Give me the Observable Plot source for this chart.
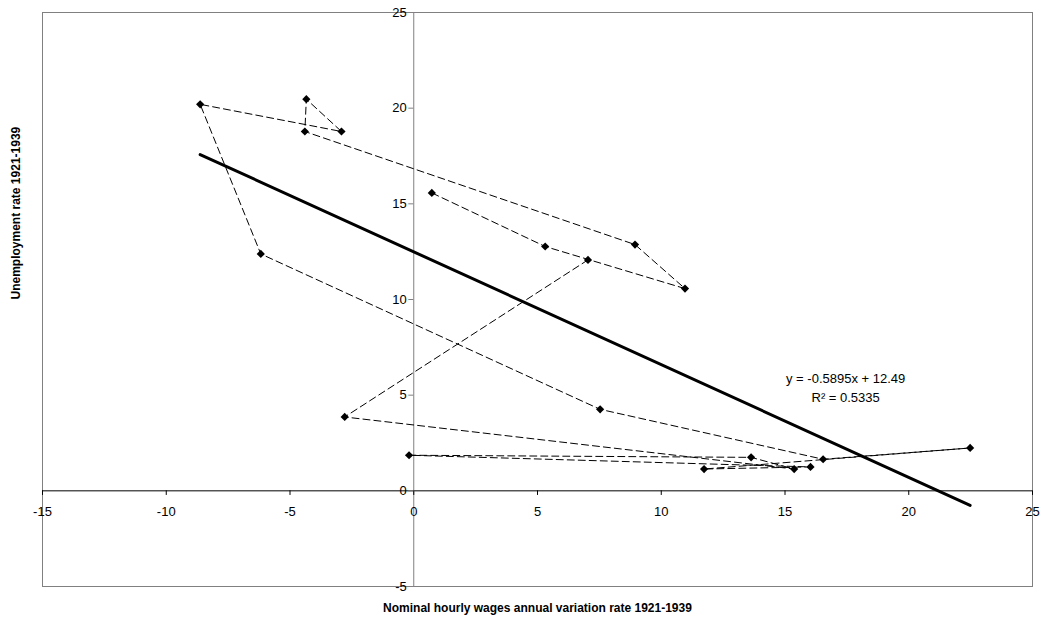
<!DOCTYPE html>
<html>
<head>
<meta charset="utf-8">
<script src="https://cdn.jsdelivr.net/npm/d3@7"></script>
<script src="https://cdn.jsdelivr.net/npm/@observablehq/plot@0.6"></script>
<style>
  html, body { margin: 0; padding: 0; background: #fff; }
  #chart svg { display: block; font-family: "Liberation Sans", Arial, sans-serif; }
</style>
</head>
<body>
<div id="chart"></div>
<script>
// Years (chronological order of the dashed path)
const years = [1921, 1922, 1923, 1924, 1925, 1926, 1927, 1928, 1929, 1930,
               1931, 1932, 1933, 1934, 1935, 1936, 1937, 1938, 1939];
// Nominal hourly wages annual variation rate (%)
const wageChange = [7.04, -2.79, 15.37, 13.63, -0.19, 16.03, 11.73, 22.48, 16.54, 7.53,
                    -6.18, -8.63, -2.92, -4.34, -4.40, 8.94, 10.96, 5.31, 0.73];
// Unemployment rate (%)
const unemployment = [12.07, 3.86, 1.14, 1.75, 1.86, 1.25, 1.14, 2.24, 1.65, 4.26,
                      12.38, 20.20, 18.78, 20.47, 18.78, 12.87, 10.57, 12.77, 15.57];

// Linear trend as reported on the chart
const trendSlope = -0.5895;
const trendIntercept = 12.49;
const trendLabel = "y = -0.5895x + 12.49\nR\u00B2 = 0.5335";

const xTicks = [-15, -10, -5, 0, 5, 10, 15, 20, 25];
const yTicks = [-5, 0, 5, 10, 15, 20, 25];
const xTitle = "Nominal hourly wages annual variation rate 1921-1939";
const yTitle = "Unemployment rate 1921-1939";

const points = years.map((year, i) => ({year, x: wageChange[i], y: unemployment[i]}));
const xMin = d3.min(wageChange), xMax = d3.max(wageChange);
const trend = [xMin, xMax].map(x => ({x, y: trendIntercept + trendSlope * x}));

const chart = Plot.plot({
  width: 1042,
  height: 626,
  marginLeft: 42,
  marginRight: 10,
  marginTop: 12,
  marginBottom: 40,
  style: {fontFamily: "'Liberation Sans', Arial, sans-serif", background: "#fff"},
  x: {domain: [-15, 25], axis: null},
  y: {domain: [-5, 25], axis: null},
  marks: [
    Plot.frame({stroke: "#808080", strokeWidth: 1}),
    // axes crossing at zero
    Plot.ruleY([0], {stroke: "#000", strokeWidth: 1}),
    Plot.ruleX([0], {stroke: "#808080", strokeWidth: 1}),
    // tick marks
    Plot.ruleX(xTicks, {x: d => d, y1: 0, y2: -0.24, stroke: "#000", strokeWidth: 1}),
    Plot.ruleY(yTicks, {y: d => d, x1: 0, x2: -0.2, stroke: "#808080", strokeWidth: 1}),
    // tick labels
    Plot.text(xTicks, {x: d => d, y: 0, text: d => String(d), dy: 21, fontSize: 13, fill: "#000"}),
    Plot.text(yTicks, {x: 0, y: d => d, text: d => String(d), textAnchor: "end", dx: -7, fontSize: 13, fill: "#000"}),
    // trend line
    Plot.line(trend, {x: "x", y: "y", stroke: "#000", strokeWidth: 3}),
    // chronological path
    Plot.line(points, {x: "x", y: "y", stroke: "#000", strokeWidth: 1, strokeDasharray: "7,4"}),
    Plot.dot(points, {x: "x", y: "y", symbol: "diamond2", r: 3.7, fill: "#000", stroke: "none"}),
    // equation
    Plot.text([trendLabel], {x: 17.45, y: 5.45, text: d => d, fontSize: 13, lineHeight: 1.45, textAnchor: "middle", fill: "#000"}),
    // axis titles
    Plot.text([xTitle], {frameAnchor: "bottom", dy: 25, text: d => d, fontSize: 12, fontWeight: "bold", fill: "#000"}),
    Plot.text([yTitle], {frameAnchor: "left", dx: -26, rotate: -90, text: d => d, fontSize: 12, fontWeight: "bold", fill: "#000"})
  ]
});
document.getElementById("chart").appendChild(chart);
</script>
</body>
</html>
